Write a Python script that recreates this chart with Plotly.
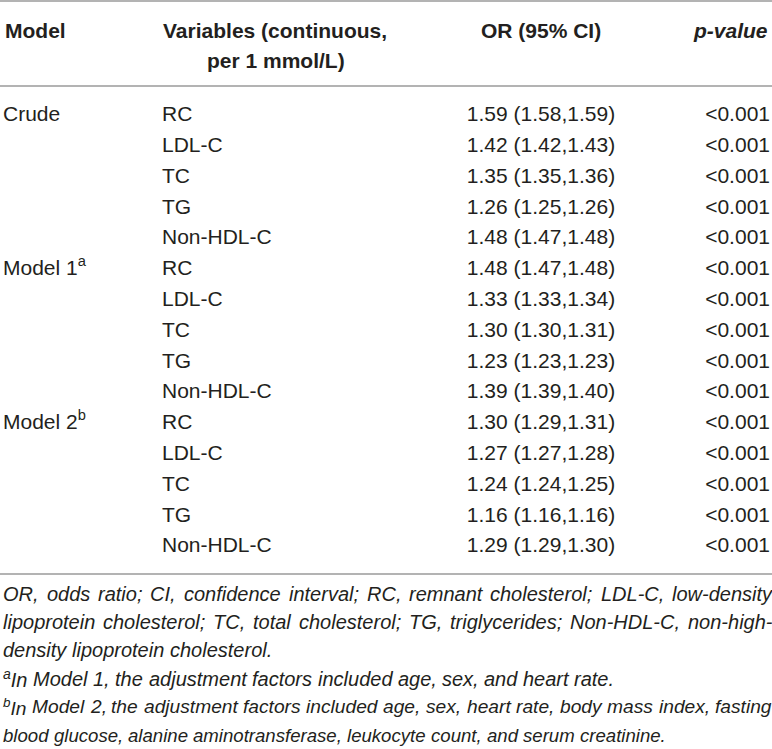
import plotly.graph_objects as go

# table values
group_names = ["Crude", "Model 1", "Model 2"]
group_marks = ["", "a", "b"]
variables = ["RC", "LDL-C", "TC", "TG", "Non-HDL-C"]
or_est = [[1.59, 1.42, 1.35, 1.26, 1.48],
          [1.48, 1.33, 1.30, 1.23, 1.39],
          [1.30, 1.27, 1.24, 1.16, 1.29]]
ci_low = [[1.58, 1.42, 1.35, 1.25, 1.47],
          [1.47, 1.33, 1.30, 1.23, 1.39],
          [1.29, 1.27, 1.24, 1.16, 1.29]]
ci_high = [[1.59, 1.43, 1.36, 1.26, 1.48],
           [1.48, 1.34, 1.31, 1.23, 1.40],
           [1.31, 1.28, 1.25, 1.16, 1.30]]
p_values = ["<0.001"] * 15

footnotes = [
    ("", "OR, odds ratio; CI, confidence interval; RC, remnant cholesterol; LDL-C, low-density"),
    ("", "lipoprotein cholesterol; TC, total cholesterol; TG, triglycerides; Non-HDL-C, non-high-"),
    ("", "density lipoprotein cholesterol."),
    ("a", "In Model 1, the adjustment factors included age, sex, and heart rate."),
    ("b", "In Model 2, the adjustment factors included age, sex, heart rate, body mass index, fasting"),
    ("", "blood glucose, alanine aminotransferase, leukocyte count, and serum creatinine."),
]
note_justify = [True, True, False, False, True, False]
note_size = [20, 20, 20, 20, 19.2, 18.6]

FONT = "Liberation Sans, Arial, sans-serif"
INK = "#231f20"
RULE = "#9a9a9a"
W, H = 772, 749

# Arial / Liberation Sans advance widths (1/1000 em), used to justify footnotes
_w = {" ": 278, ",": 278, ".": 278, ";": 278, "-": 333, "(": 333, ")": 333, "<": 584}
_w.update({c: 556 for c in "0123456789"})
_w.update(dict(zip("ABCDEFGHIJKLMNOPQRSTUVWXYZ",
                   [667, 667, 722, 722, 667, 611, 778, 722, 278, 500, 667, 556, 833,
                    722, 778, 667, 778, 722, 667, 611, 722, 667, 944, 667, 667, 611])))
_w.update(dict(zip("abcdefghijklmnopqrstuvwxyz",
                   [556, 556, 500, 556, 556, 278, 556, 556, 222, 222, 500, 222, 833,
                    556, 556, 556, 556, 333, 500, 278, 556, 500, 722, 500, 500, 500])))


def text_width(s, size):
    return sum(_w.get(c, 556) for c in s) * size / 1000.0


model_idx, model_txt, rows_var, rows_or = [], [], [], []
for g in range(len(group_names)):
    name = group_names[g]
    if group_marks[g]:
        name += "<sup>" + group_marks[g] + "</sup>"
    model_idx.append(len(rows_var))
    model_txt.append(name)
    for v in range(len(variables)):
        rows_var.append(variables[v])
        rows_or.append("%.2f (%.2f,%.2f)" % (or_est[g][v], ci_low[g][v], ci_high[g][v]))

n = len(rows_var)
row_y = [116 + i * 30.8 for i in range(n)]

fig = go.Figure()
cols = [(model_txt, [row_y[i] for i in model_idx], 3, "middle right"),
        (rows_var, row_y, 162, "middle right"),
        (rows_or, row_y, 541, "middle center"),
        (p_values, row_y, 770, "middle left")]
for vals, ys, x0, pos in cols:
    fig.add_trace(go.Scatter(x=[x0] * len(ys), y=ys, text=vals, mode="text",
                             textposition=pos, hoverinfo="skip",
                             textfont=dict(family=FONT, size=21, color=INK)))

hdr = dict(family=FONT, size=21, color=INK)
headers = [("<b>Model</b>", 3, 30, "left"),
           ("<b>Variables (continuous,</b>", 275, 30, "center"),
           ("<b>per 1 mmol/L)</b>", 276, 60, "center"),
           ("<b>OR (95% CI)</b>", 541, 30, "center"),
           ("<b><i>p-value</i></b>", 770, 30, "right")]
for txt, x0, y0, anc in headers:
    fig.add_annotation(x=x0, y=y0, text=txt, showarrow=False, xanchor=anc,
                       yanchor="middle", font=hdr)

for y0 in [1, 86, 574]:
    fig.add_shape(type="line", x0=0, x1=W, y0=y0, y1=y0,
                  line=dict(color=RULE, width=1.5))

# footnotes, justified word by word where the reference is
for k, (mark, line) in enumerate(footnotes):
    y0 = 594 + k * 28.2
    size = note_size[k]
    words = line.split(" ")
    widths = [text_width(w, size) for w in words]
    if mark:
        words[0] = "<sup>" + mark + "</sup>" + words[0]
        widths[0] += text_width(mark, size) * 0.7
    if note_justify[k]:
        gap = (W - 3 - sum(widths)) / (len(words) - 1)
    else:
        gap = text_width(" ", size)
    x0 = 1
    for w, wd in zip(words, widths):
        fig.add_annotation(x=x0, y=y0, text="<i>" + w + "</i>", showarrow=False,
                           xanchor="left", yanchor="middle",
                           font=dict(family=FONT, size=size, color=INK))
        x0 += wd + gap

fig.update_xaxes(range=[0, W], visible=False, fixedrange=True)
fig.update_yaxes(range=[H, 0], visible=False, fixedrange=True)
fig.update_layout(width=W, height=H, margin=dict(l=0, r=0, t=0, b=0),
                  plot_bgcolor="white", paper_bgcolor="white", showlegend=False)
fig.write_html("out.html", config={"displayModeBar": False},
               post_script="document.body.style.margin='0';")
